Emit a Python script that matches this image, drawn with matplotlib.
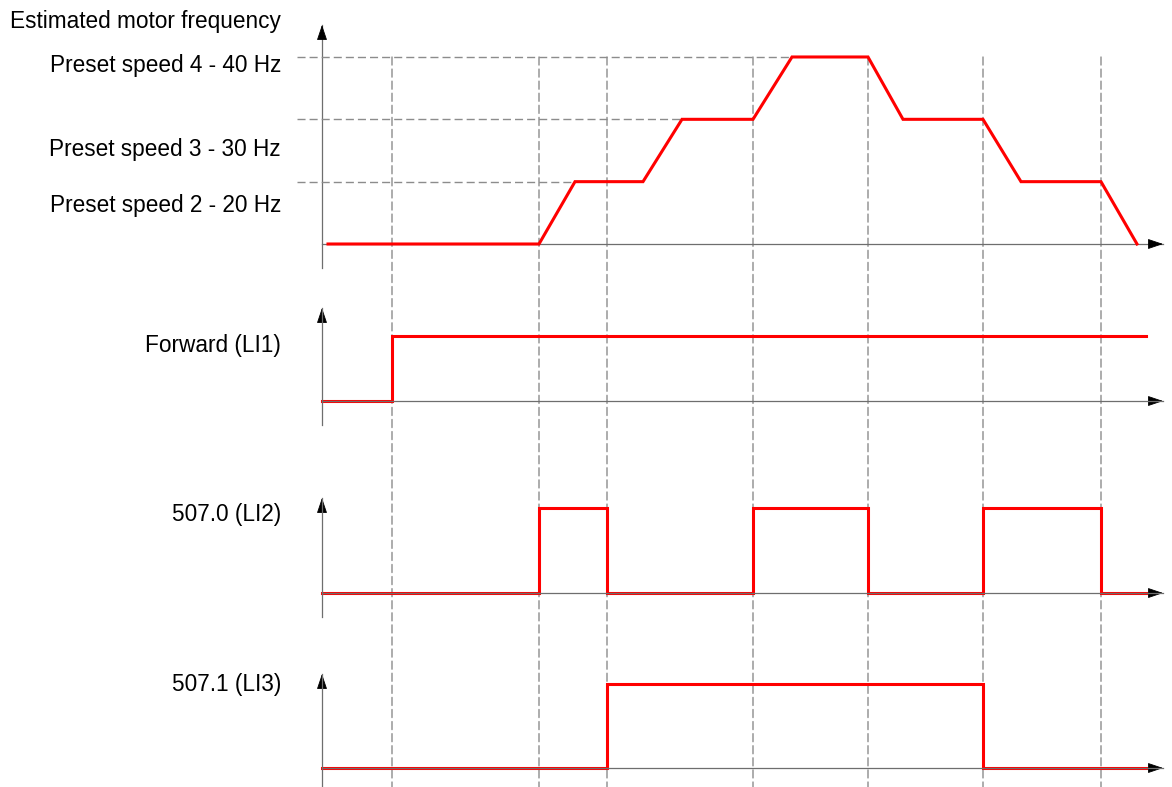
import numpy as np
import matplotlib
matplotlib.use("Agg")
import matplotlib.pyplot as plt
from matplotlib.patches import ConnectionPatch

# time axis is schematic, arbitrary units
event_times = [7.0, 21.7, 28.5, 43.1, 54.6, 66.1, 77.9]

# estimated motor frequency profile
freq_t = [0.6, 21.7, 25.3, 32.1, 36.0, 43.1, 47.0, 54.6, 58.1, 66.1, 69.9, 77.9, 81.5]
freq_hz = [0, 0, 20, 20, 30, 30, 40, 40, 30, 30, 20, 20, 0]

preset_hz = [40, 30, 20]
preset_labels = ["Preset speed 4 - 40 Hz", "Preset speed 3 - 30 Hz", "Preset speed 2 - 20 Hz"]

# logic inputs, each state holds until the next time
li1_t = [0, 7.0, 82.4]
li1_state = [0, 1, 1]
li2_t = [0, 21.7, 28.5, 43.1, 54.6, 66.1, 77.9, 82.4]
li2_state = [0, 1, 0, 1, 0, 1, 0, 0]
li3_t = [0, 28.5, 66.1, 82.4]
li3_state = [0, 1, 0, 0]

signal_labels = ["Forward (LI1)", "507.0 (LI2)", "507.1 (LI3)"]

W, H = 1172, 787
RED = "#ff0000"
AXIS_GREY = "#6e6e6e"
DASH_GREY = "#8c8c8c"
T_END = 84.1  # tip of the time arrows
FS = 16.3


# preset speeds are drawn equally spaced (not to scale)
def hz_to_level(f):
    f = np.asarray(f, dtype=float)
    return np.where(f < 20, f / 20, (f - 10) / 10)


def level_to_hz(l):
    l = np.asarray(l, dtype=float)
    return np.where(l < 1, l * 20, l * 10 + 10)


def panel(top_px, bottom_px):
    left_px, right_px = 297, 1168
    ax = fig.add_axes([left_px / W, 1 - bottom_px / H,
                       (right_px - left_px) / W, (bottom_px - top_px) / H])
    ax.set_xlim(-2.5, 84.6)
    return ax


def draw_arrows(ax, ybot, ytop, signal_on_top):
    z = 1 if signal_on_top else 4
    ax.plot([0, 0], [ybot, ytop], color=AXIS_GREY, lw=0.9, clip_on=False, zorder=z)
    ax.plot([0, T_END], [0, 0], color=AXIS_GREY, lw=0.9, clip_on=False, zorder=z)
    head = dict(arrowstyle="-|>,head_length=0.95,head_width=0.32", mutation_scale=10,
                color="black", lw=0.6, shrinkA=0, shrinkB=0)
    ax.annotate("", xy=(0, ytop), xytext=(0, -10), textcoords="offset points",
                arrowprops=head, annotation_clip=False)
    ax.annotate("", xy=(T_END, 0), xytext=(-10, 0), textcoords="offset points",
                arrowprops=head, annotation_clip=False)


fig = plt.figure(figsize=(W / 100, H / 100), dpi=100)
plt.rcParams["font.family"] = ["Liberation Sans", "DejaVu Sans"]

# frequency panel
ax1 = panel(25, 268)
ax1.set_yscale("function", functions=(hz_to_level, level_to_hz))
ax1.set_ylim(-7.7, 45.13)
ax1.axis("off")
draw_arrows(ax1, -7.7, 45.13, True)
for hz in preset_hz:
    reach_t = freq_t[freq_hz.index(hz)]
    ax1.hlines(hz, -2.5, reach_t, colors=DASH_GREY, lw=1.0,
               linestyles=(0, (5.8, 2.9)), clip_on=False, zorder=1)
ax1.plot(freq_t, freq_hz, color=RED, lw=2.2, solid_joinstyle="miter",
         clip_on=False, zorder=3)

# logic input panels: (top px, bottom px, ylim)
logic_boxes = [(308, 425, (-0.369, 1.431)),
               (498, 617, (-0.282, 1.118)),
               (674, 787, (-0.226, 1.119))]
logic_data = [(li1_t, li1_state), (li2_t, li2_state), (li3_t, li3_state)]

logic_axes = []
for (top, bot, ylim), (ts, states) in zip(logic_boxes, logic_data):
    ax = panel(top, bot)
    ax.set_ylim(*ylim)
    ax.axis("off")
    ax.plot(ts, states, drawstyle="steps-post", color=RED, lw=2.2,
            solid_joinstyle="miter", clip_on=False, zorder=3)
    draw_arrows(ax, ylim[0], ylim[1], False)
    logic_axes.append(ax)

ax4 = logic_axes[-1]

# vertical dashed event lines running through all panels
for t in event_times:
    con = ConnectionPatch(xyA=(t, 40), coordsA=ax1.transData,
                          xyB=(t, ax4.get_ylim()[0]), coordsB=ax4.transData,
                          color=DASH_GREY, lw=1.0, linestyle=(0, (5.8, 2.9)))
    con.set_zorder(-1)
    fig.add_artist(con)

# labels on the left
label_x = 281 / W
fig.text(label_x, 1 - 28 / H, "Estimated motor frequency", ha="right",
         va="baseline", fontsize=FS)
for lab, base in zip(preset_labels, [72, 156, 212]):
    fig.text(label_x, 1 - base / H, lab, ha="right", va="baseline", fontsize=FS)
for lab, base in zip(signal_labels, [352, 521, 691]):
    fig.text(label_x, 1 - base / H, lab, ha="right", va="baseline", fontsize=FS)

fig.savefig("out.png", dpi=100, facecolor="white")
